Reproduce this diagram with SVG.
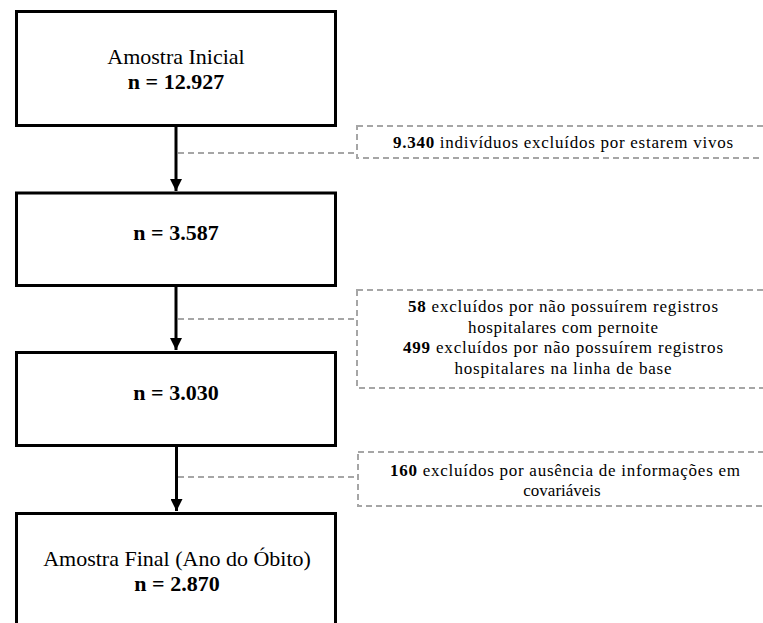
<svg xmlns="http://www.w3.org/2000/svg" width="763" height="623" viewBox="0 0 763 623">
<style>
.box{fill:#fff;stroke:#000;stroke-width:3}
.excl{fill:#fff;stroke:#a6a6a6;stroke-width:2;stroke-dasharray:6 4}
.main{font-family:"Liberation Serif","Times New Roman",serif;font-size:22px;fill:#000;text-anchor:middle}
.small{font-family:"Liberation Serif","Times New Roman",serif;font-size:17px;fill:#000;text-anchor:middle}
.b{font-weight:bold}
.arrow{stroke:#000;stroke-width:3;fill:none}
.dash{stroke:#a6a6a6;stroke-width:2;stroke-dasharray:6 4;fill:none}
</style>
<defs>
<marker id="ah" viewBox="0 0 10 10" refX="10" refY="5" markerWidth="4" markerHeight="4" markerUnits="strokeWidth" orient="auto">
<path d="M0,0 L10,5 L0,10 Z" fill="#000"/>
</marker>
</defs>
<rect width="763" height="623" fill="#fff"/>
<g id="connectors">
<line class="arrow" x1="176" y1="127" x2="176" y2="191" marker-end="url(#ah)"/>
<line class="arrow" x1="176" y1="287" x2="176" y2="350" marker-end="url(#ah)"/>
<line class="arrow" x1="176.5" y1="447" x2="176.5" y2="511" marker-end="url(#ah)"/>
<line class="dash" x1="178" y1="153" x2="357" y2="153"/>
<line class="dash" x1="178" y1="319" x2="357" y2="319"/>
<line class="dash" x1="178" y1="477" x2="358" y2="477"/>
</g>
<g id="n1">
<rect class="box" x="16.5" y="11.5" width="319" height="114"/>
<text class="main" x="176" y="64">Amostra Inicial</text>
<text class="main b" x="176" y="88.5">n = 12.927</text>
</g>
<g id="n2">
<rect class="box" x="16.5" y="193" width="319" height="92.5"/>
<text class="main b" x="176" y="240">n = 3.587</text>
</g>
<g id="n3">
<rect class="box" x="16.5" y="352.5" width="319" height="93"/>
<text class="main b" x="176" y="400">n = 3.030</text>
</g>
<g id="n4">
<rect class="box" x="16.5" y="513.5" width="319" height="130"/>
<text class="main" x="177" y="566">Amostra Final (Ano do Óbito)</text>
<text class="main b" x="177" y="590.5">n = 2.870</text>
</g>
<g id="e1">
<rect class="excl" x="357" y="126" width="420" height="32"/>
<text class="small" x="563" y="148" textLength="340" lengthAdjust="spacing"><tspan class="b">9.340</tspan> indivíduos excluídos por estarem vivos</text>
</g>
<g id="e2">
<rect class="excl" x="357" y="290" width="420" height="98"/>
<text class="small" x="563" y="312" textLength="310" lengthAdjust="spacing"><tspan class="b">58</tspan> excluídos por não possuírem registros</text>
<text class="small" x="563" y="332.5" textLength="190" lengthAdjust="spacing">hospitalares com pernoite</text>
<text class="small" x="563" y="353" textLength="320" lengthAdjust="spacing"><tspan class="b">499</tspan> excluídos por não possuírem registros</text>
<text class="small" x="563" y="373.5" textLength="217" lengthAdjust="spacing">hospitalares na linha de base</text>
</g>
<g id="e3">
<rect class="excl" x="358" y="452" width="420" height="54"/>
<text class="small" x="565" y="476" textLength="350" lengthAdjust="spacing"><tspan class="b">160</tspan> excluídos por ausência de informações em</text>
<text class="small" x="562" y="496">covariáveis</text>
</g>
</svg>
